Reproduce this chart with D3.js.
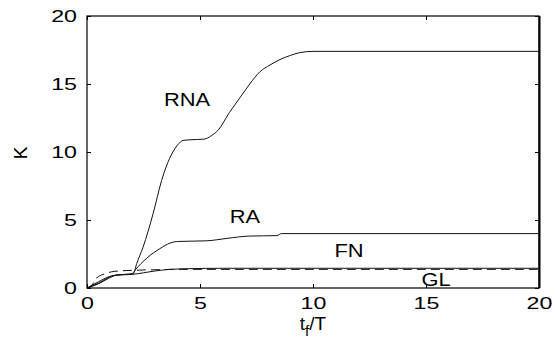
<!DOCTYPE html>
<html>
<head>
<meta charset="utf-8">
<script src="https://cdn.jsdelivr.net/npm/d3@7"></script>
<style>
  body { margin: 0; background: #fff; }
  svg { display: block; font-family: "Liberation Sans", Arial, sans-serif; }
</style>
</head>
<body>
<script>
// curves: time t_f/T and K
const rnaT = [0, 0.5, 1.0, 1.3, 1.7, 2.05, 2.2, 2.48, 2.93, 3.3, 3.5, 3.8, 4.0, 4.25, 4.6, 5.2, 5.5, 5.8, 6.3, 6.77, 7.2, 7.65, 8.1, 8.54, 9.0, 9.4, 10.0, 20]
const rnaK = [0, 0.3, 0.75, 0.95, 1.0, 1.05, 1.8, 3.0, 5.5, 7.9, 8.9, 10.0, 10.5, 10.85, 10.9, 10.95, 11.2, 11.6, 12.9, 14.0, 15.0, 15.9, 16.4, 16.8, 17.1, 17.3, 17.4, 17.4]

const raT = [0, 0.5, 1.0, 1.3, 1.7, 2.0, 2.12, 2.65, 3.23, 3.67, 4.0, 5.3, 6.2, 7.2, 8.4, 8.6, 20]
const raK = [0, 0.35, 0.8, 0.95, 1.0, 1.05, 1.3, 2.2, 2.9, 3.3, 3.42, 3.47, 3.65, 3.82, 3.85, 4.0, 4.0]

const fnT = [0, 0.5, 1.0, 1.3, 2.0, 2.5, 3.0, 3.67, 4.5, 6, 20]
const fnK = [0, 0.45, 0.85, 0.95, 1.0, 1.12, 1.25, 1.37, 1.42, 1.45, 1.45]

const glT = [0, 0.28, 0.35, 0.5, 0.8, 1.2, 2.0, 3.0, 4.0, 20]
const glK = [0, 0.35, 0.6, 0.83, 1.05, 1.22, 1.3, 1.34, 1.37, 1.37]

const xTicks = [0, 5, 10, 15, 20]
const yTicks = [0, 5, 10, 15, 20]

const series = [
    { name: 'RNA', t: rnaT, k: rnaK, dash: null, lx: 187, ly: 106 },
    { name: 'RA', t: raT, k: raK, dash: null, lx: 245, ly: 223 },
    { name: 'FN', t: fnT, k: fnK, dash: null, lx: 349, ly: 257 },
    { name: 'GL', t: glT, k: glK, dash: '9,5', lx: 436, ly: 286 }
]

const width = 556
const height = 348
const margin = { top: 16, right: 17, bottom: 60, left: 87 }

// the original's lettering is drawn wide, so text gets stretched sideways
const tickStretch = 1.45
const labelStretch = 1.15

const svg = d3.select('body')
    .append('svg')
    .attr('width', width)
    .attr('height', height)

const x = d3.scaleLinear()
    .domain([0, 20])
    .range([margin.left, width - margin.right])

const y = d3.scaleLinear()
    .domain([0, 20])
    .range([height - margin.bottom, margin.top])

// ticks point inward, like the original
svg.append('g')
    .attr('transform', `translate(0, ${height - margin.bottom})`)
    .call(d3.axisBottom(x).tickValues(xTicks).tickSize(-4).tickPadding(10))
    .call(g => g.select('.domain').remove())
    .call(g => g.selectAll('text')
        .style('font-size', '16px')
        .attr('fill', '#000')
        .attr('transform', `scale(${tickStretch},1)`))

svg.append('g')
    .attr('transform', `translate(${margin.left}, 0)`)
    .call(d3.axisLeft(y).tickValues(yTicks).tickSize(-4).tickPadding(10))
    .call(g => g.select('.domain').remove())
    .call(g => g.selectAll('text')
        .style('font-size', '16px')
        .attr('fill', '#000')
        .attr('x', -10 / tickStretch)
        .attr('transform', `scale(${tickStretch},1)`))

svg.append('g')
    .attr('transform', `translate(0, ${margin.top})`)
    .call(d3.axisTop(x).tickValues(xTicks).tickSize(-4).tickFormat(''))
    .call(g => g.select('.domain').remove())

svg.append('g')
    .attr('transform', `translate(${width - margin.right}, 0)`)
    .call(d3.axisRight(y).tickValues(yTicks).tickSize(-4).tickFormat(''))
    .call(g => g.select('.domain').remove())

// box
svg.append('rect')
    .attr('x', margin.left)
    .attr('y', margin.top)
    .attr('width', width - margin.left - margin.right)
    .attr('height', height - margin.top - margin.bottom)
    .attr('fill', 'none')
    .attr('stroke', '#000')
    .attr('stroke-width', 1.2)

svg.append('line')
    .attr('x1', width - margin.right + 0.5)
    .attr('x2', width - margin.right + 0.5)
    .attr('y1', margin.top)
    .attr('y2', height - margin.bottom)
    .attr('stroke', '#000')
    .attr('stroke-width', 2)

const line = d3.line()
    .x(d => x(d[0]))
    .y(d => y(d[1]))
    .curve(d3.curveMonotoneX)

svg.selectAll('.curve')
    .data(series)
    .join('path')
    .attr('class', 'curve')
    .attr('d', s => line(s.t.map((t, i) => [t, s.k[i]])))
    .attr('fill', 'none')
    .attr('stroke', '#111')
    .attr('stroke-width', 1)
    .attr('stroke-dasharray', s => s.dash)

svg.selectAll('.label')
    .data(series)
    .join('text')
    .attr('class', 'label')
    .attr('transform', s => `translate(${s.lx}, ${s.ly}) scale(${labelStretch},1)`)
    .attr('text-anchor', 'middle')
    .style('font-size', '19px')
    .text(s => s.name)

// axis titles
svg.append('text')
    .attr('transform', 'translate(27, 153) rotate(-90)')
    .attr('text-anchor', 'middle')
    .style('font-size', '19px')
    .text('K')

const xt = svg.append('text')
    .attr('x', (margin.left + width - margin.right) / 2)
    .attr('y', 330)
    .attr('text-anchor', 'middle')
    .style('font-size', '19px')
xt.append('tspan').text('t')
xt.append('tspan').attr('dy', 6).style('font-size', '15px').text('f')
xt.append('tspan').attr('dy', -6).text('/T')
</script>
</body>
</html>
